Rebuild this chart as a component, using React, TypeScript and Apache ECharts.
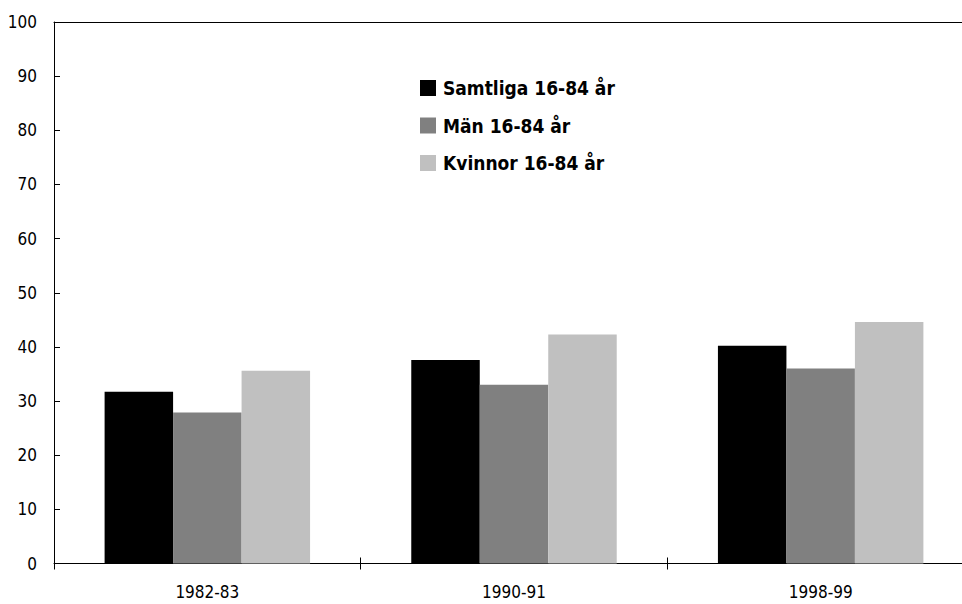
import React, { useEffect, useRef } from "react";
import * as echarts from "echarts";

const categories = ["1982-83", "1990-91", "1998-99"];
const seriesNames = ["Samtliga 16-84 år", "Män 16-84 år", "Kvinnor 16-84 år"];
const samtliga = [31.7, 37.6, 40.2];
const man = [27.9, 33.0, 36.0];
const kvinnor = [35.6, 42.3, 44.6];
const colors = ["#000000", "#808080", "#c0c0c0"];
const yMin = 0;
const yMax = 100;
const yInterval = 10;

const FONT = "'Liberation Sans Narrow', 'DejaVu Sans Condensed', 'Arial Narrow', sans-serif";

export default function App() {
  const ref = useRef<HTMLDivElement>(null);
  useEffect(() => {
    if (!ref.current) return;
    const chart = echarts.init(ref.current, undefined, { renderer: "svg" });
    const values = [samtliga, man, kvinnor];
    chart.setOption({
      animation: false,
      backgroundColor: "#ffffff",
      grid: { left: 54, top: 22, bottom: 40.5, right: 0, containLabel: false },
      legend: {
        orient: "vertical",
        left: 420,
        top: 78,
        padding: 0,
        itemWidth: 16,
        itemHeight: 16,
        itemGap: 17.5,
        icon: "rect",
        data: seriesNames,
        textStyle: {
          fontFamily: FONT,
          fontWeight: "bold",
          fontSize: 19,
          color: "#000",
          lineHeight: 20,
          padding: [0, 0, 0, 2],
        },
      },
      xAxis: [
        {
          type: "category",
          data: categories,
          position: "bottom",
          axisLine: { show: true, lineStyle: { color: "#000", width: 1 } },
          axisTick: { show: true, inside: false, length: 6, lineStyle: { color: "#000" } },
          axisLabel: { fontFamily: FONT, fontSize: 17, color: "#000", margin: 20 },
          splitLine: { show: false },
        },
        {
          type: "category",
          data: categories,
          position: "bottom",
          axisLine: { show: false },
          axisTick: { show: true, inside: true, length: 6, lineStyle: { color: "#000" } },
          axisLabel: { show: false },
          splitLine: { show: false },
        },
        {
          type: "category",
          data: categories,
          position: "top",
          axisLine: { show: true, lineStyle: { color: "#000", width: 1 } },
          axisTick: { show: false },
          axisLabel: { show: false },
          splitLine: { show: false },
        },
      ],
      yAxis: {
        type: "value",
        min: yMin,
        max: yMax,
        interval: yInterval,
        axisLine: { show: true, lineStyle: { color: "#000", width: 1 } },
        axisTick: { show: true, inside: true, length: 6, lineStyle: { color: "#000" } },
        axisLabel: { fontFamily: FONT, fontSize: 17, color: "#000", margin: 17 },
        splitLine: { show: false },
      },
      series: seriesNames.map((name, i) => ({
        name,
        type: "bar",
        xAxisIndex: 0,
        data: values[i],
        barGap: "0%",
        barCategoryGap: "33%",
        itemStyle: { color: colors[i] },
      })),
    });
    return () => chart.dispose();
  }, []);
  return (
    <div
      style={{ position: "absolute", left: 0, top: 0, width: 962, height: 604, overflow: "hidden" }}
    >
      <div ref={ref} style={{ position: "absolute", left: 0, top: 0, width: 973.5, height: 604 }} />
    </div>
  );
}
